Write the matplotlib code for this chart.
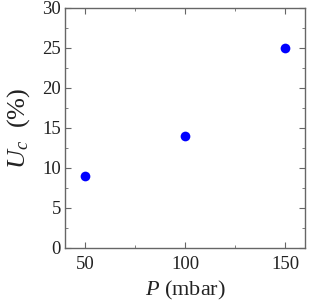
import matplotlib
matplotlib.use("Agg")
import matplotlib.pyplot as plt
from matplotlib.ticker import MultipleLocator

pressure = [50, 100, 150]
uc = [9, 14, 25]
xticks = [50, 100, 150]
yticks = [0, 5, 10, 15, 20, 25, 30]

plt.rcParams['font.family'] = ['Liberation Serif', 'DejaVu Serif']
plt.rcParams['mathtext.fontset'] = 'custom'
plt.rcParams['mathtext.rm'] = 'Liberation Serif'
plt.rcParams['mathtext.it'] = 'Liberation Serif:italic'

fig = plt.figure(figsize=(3.10, 3.08), dpi=100)
ax = fig.add_axes([65/310, 1-248/308, 240/310, 240/308])
ax.plot(pressure, uc, 'o', color='#0000ff', markersize=7.0, markeredgewidth=0)
ax.set_xlim(40, 160)
ax.set_ylim(0, 30)
ax.set_xticks(xticks)
ax.set_yticks(yticks)
ax.xaxis.set_minor_locator(MultipleLocator(25))
ax.yaxis.set_minor_locator(MultipleLocator(2.5))
for s in ax.spines.values():
    s.set_color('#666666')
    s.set_linewidth(1.0)
ax.tick_params(which='both', direction='in', top=True, right=True, colors='#666666', labelcolor='#222222', labelsize=13.5)
ax.tick_params(which='major', length=4)
ax.tick_params(which='minor', length=2.5)
ax.tick_params(axis='x', pad=6)
ax.tick_params(axis='y', pad=3)
ax.set_xlabel('$P$ (mbar)', fontsize=16, color='#222222', labelpad=4)
ax.set_ylabel('$U_c$  (%)', fontsize=19, color='#222222', labelpad=7)
fig.savefig('out.png', dpi=100)
